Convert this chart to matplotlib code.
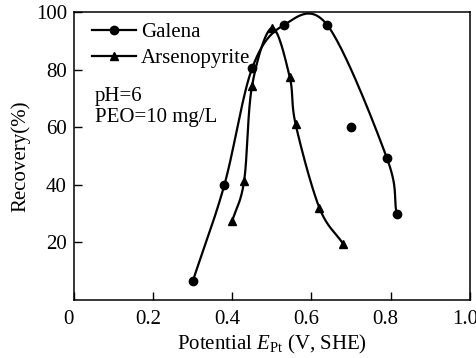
import numpy as np
import matplotlib.pyplot as plt
from matplotlib.transforms import ScaledTranslation

plt.rcParams['font.family'] = ['Liberation Serif', 'DejaVu Serif']
plt.rcParams['mathtext.fontset'] = 'custom'
plt.rcParams['mathtext.rm'] = 'Liberation Serif'
plt.rcParams['mathtext.it'] = 'Liberation Serif:italic'

# Galena (curve points) and one off-curve point
galena_x = [0.30, 0.38, 0.45, 0.53, 0.64, 0.79, 0.815]
galena_y = [6.5, 40, 80.5, 95.5, 95.5, 49.5, 30]
galena_extra_x = [0.70]
galena_extra_y = [60]

# Arsenopyrite
arseno_x = [0.40, 0.43, 0.45, 0.50, 0.545, 0.56, 0.62, 0.68]
arseno_y = [27.5, 41.5, 74.5, 94.5, 77.5, 61, 32, 19.5]

xticks = [0, 0.2, 0.4, 0.6, 0.8, 1.0]
xticklabels = ['0', '0.2', '0.4', '0.6', '0.8', '1.0']
yticks = [20, 40, 60, 80, 100]


def catmull_rom(x, y, n=30):
    # smooth curve through the given points
    p = np.column_stack([x, y]).astype(float)
    p = np.vstack([2 * p[0] - p[1], p, 2 * p[-1] - p[-2]])
    out = []
    t = np.linspace(0, 1, n)[:, None]
    for i in range(1, len(p) - 2):
        p0, p1, p2, p3 = p[i - 1], p[i], p[i + 1], p[i + 2]
        seg = 0.5 * ((2 * p1) + (-p0 + p2) * t
                     + (2 * p0 - 5 * p1 + 4 * p2 - p3) * t ** 2
                     + (-p0 + 3 * p1 - 3 * p2 + p3) * t ** 3)
        out.append(seg)
    out = np.vstack(out)
    return out[:, 0], out[:, 1]


fig = plt.figure(figsize=(4.77, 3.58), dpi=100)
ax = fig.add_axes([0.155, 0.162, 0.830, 0.804])

gx, gy = catmull_rom(galena_x, galena_y)
ax.plot(gx, gy, 'k-', lw=1.6)
ax.plot(galena_x, galena_y, 'ko', ms=6, ls='none')
ax.plot(galena_extra_x, galena_extra_y, 'ko', ms=6, ls='none')

axx, axy = catmull_rom(arseno_x, arseno_y)
ax.plot(axx, axy, 'k-', lw=1.6)
ax.plot(arseno_x, arseno_y, 'k^', ms=6, ls='none')

# legend handles
ax.plot([], [], 'k-o', lw=1.6, ms=6, label='Galena')
ax.plot([], [], 'k-^', lw=1.6, ms=6, label='Arsenopyrite')
ax.legend(loc='upper left', frameon=False, fontsize=15, handlelength=2.1,
          handletextpad=0.25, labelspacing=0.32, borderpad=0,
          borderaxespad=0, bbox_to_anchor=(0.045, 0.965))

ax.text(0.053, 0.74, 'pH=6\nPEO=10 mg/L', transform=ax.transAxes,
        fontsize=15, va='top', ha='left', linespacing=1.15)

ax.set_xlim(0, 0.99)
ax.set_ylim(0, 100)
ax.set_xticks(xticks)
ax.set_xticklabels(xticklabels)
ax.set_yticks(yticks)
ax.tick_params(direction='in', length=6, labelsize=15, width=1)
ax.tick_params(axis='x', pad=7)
ax.tick_params(axis='y', pad=5)
shift = ScaledTranslation(-5 / 100, 0, fig.dpi_scale_trans)
for lab in ax.get_xticklabels():
    lab.set_transform(lab.get_transform() + shift)
for s in ax.spines.values():
    s.set_linewidth(1.1)

ax.set_xlabel(r'Potential $E_{\mathrm{Pt}}$ (V, SHE)', fontsize=15, labelpad=3)
ax.set_ylabel('Recovery(%)', fontsize=15, labelpad=4)

fig.savefig('out.png', dpi=100)
